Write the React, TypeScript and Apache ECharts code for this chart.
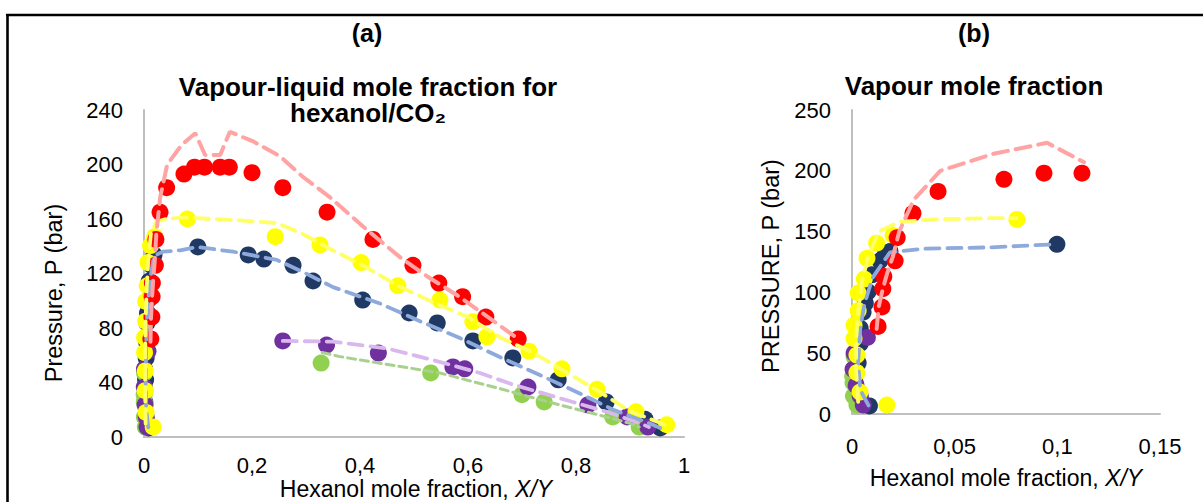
import { useEffect, useRef } from "react";
import * as echarts from "echarts";

// ---------- measured points (X = hexanol mole fraction, P = pressure in bar) ----------
// Vapour branch (shown in both panels)
const redVapX = [0.0127, 0.0146, 0.015, 0.0155, 0.021, 0.022, 0.0297, 0.0419, 0.074, 0.0935, 0.112];
const redVapP = [72, 88, 103, 113, 126, 145, 165, 183, 193, 198, 198];
const yelVapX = [0.017, 0.0039, 0.0024, 0.0024, 0.001, 0.001, 0.003, 0.003, 0.006, 0.0073, 0.012, 0.02, 0.0803];
const yelVapP = [7.4, 18, 34, 48.5, 62, 73, 85, 99.5, 111, 128, 140.5, 147, 160];
const navVapX = [0.0085, 0.004, 0.0015, 0.003, 0.004, 0.004, 0.0054, 0.0065, 0.0078, 0.0097, 0.0136, 0.016, 0.0185, 0.0998];
const navVapP = [6.6, 13, 25.7, 42, 58, 70.5, 83.7, 91, 100.5, 114.5, 126, 130.6, 133.6, 139.5];
const purVapX = [0.0055, 0.004, 0.002, 0.0005, 0.001, 0.0075];
const purVapP = [7.3, 14.7, 23.5, 36.7, 50, 63];
const grnVapX = [0.0024, 0.0007, 0.0005, 0.0003, 0.001];
const grnVapP = [7.3, 14.7, 25.7, 31, 47];

// Liquid branch (left panel only)
const redLiqX = [0.141, 0.158, 0.2, 0.257, 0.339, 0.424, 0.498, 0.546, 0.59, 0.633, 0.693];
const redLiqP = [198, 198, 194, 183, 165, 145, 126, 113, 103, 88, 72];
const yelLiqX = [0.243, 0.326, 0.402, 0.47, 0.548, 0.609, 0.635, 0.713, 0.774, 0.839, 0.911, 0.968];
const yelLiqP = [147, 141, 128, 111, 100.5, 84.5, 73.5, 63, 50, 35, 18.5, 9];
const navLiqX = [0.193, 0.222, 0.276, 0.313, 0.405, 0.491, 0.543, 0.609, 0.683, 0.767, 0.856, 0.928, 0.956];
const navLiqP = [133.6, 130.6, 126, 114.5, 100.5, 91, 83.7, 70.5, 58, 42, 25.7, 13, 6.6];
const purLiqX = [0.257, 0.338, 0.434, 0.572, 0.594, 0.711, 0.822, 0.895, 0.933];
const purLiqP = [70.5, 67.5, 61.6, 51.4, 50, 36.7, 23.5, 14.7, 7.3];
const grnLiqX = [0.328, 0.531, 0.7, 0.741, 0.868, 0.917];
const grnLiqP = [54.3, 47, 31, 25.7, 14.7, 7.3];

// Model (dashed) curves
const redVapLineX = [0.012, 0.013, 0.015, 0.017, 0.02, 0.023, 0.03, 0.043, 0.069, 0.095, 0.113];
const redVapLineP = [70, 88, 103, 115, 130, 150, 176, 200, 214, 223, 207];
const redLiqLineX = [0.141, 0.159, 0.202, 0.252, 0.294, 0.344, 0.413, 0.474, 0.524, 0.58, 0.63, 0.693];
const redLiqLineP = [207, 224, 217, 206, 191, 176, 152, 132, 118, 104, 90, 72];
const yelVapLineX = [0.003, 0.002, 0.002, 0.003, 0.005, 0.008, 0.013, 0.023, 0.04, 0.067, 0.08];
const yelVapLineP = [10, 35, 60, 85, 110, 130, 150, 158, 160, 161, 161];
const yelLiqLineX = [0.178, 0.246, 0.289, 0.35, 0.41, 0.47, 0.54, 0.6, 0.66, 0.72, 0.78, 0.84, 0.9, 0.965];
const yelLiqLineP = [159, 157, 150, 137, 125, 111, 98, 88, 73, 62, 48, 34, 19, 9];
const navVapLineX = [0.008, 0.004, 0.003, 0.004, 0.006, 0.01, 0.0185, 0.035, 0.067, 0.098];
const navVapLineP = [7, 20, 42, 70, 90, 112, 133, 136, 137, 139.5];
const navLiqLineX = [0.165, 0.246, 0.3, 0.35, 0.437, 0.505, 0.585, 0.659, 0.733, 0.807, 0.869, 0.93, 0.956];
const navLiqLineP = [136, 130, 120, 110, 98, 86, 72.6, 58.7, 45.5, 32, 20, 11, 6.6];
const purLiqLineX = [0.257, 0.35, 0.45, 0.535, 0.622, 0.683, 0.783, 0.857, 0.919, 0.935];
const purLiqLineP = [70.5, 70, 65, 56.5, 47, 38.5, 27, 18.5, 10, 7.3];
const grnLiqLineX = [0.33, 0.363, 0.424, 0.548, 0.654, 0.77, 0.844, 0.9, 0.917];
const grnLiqLineP = [62, 59, 55, 47, 36, 23.5, 16, 10, 7.3];

// Axis ticks
const leftXTicks = { min: 0, max: 1, interval: 0.2 };
const leftYTicks = { min: 0, max: 240, interval: 40 };
const rightXTicks = { min: 0, max: 0.15, interval: 0.05 };
const rightYTicks = { min: 0, max: 250, interval: 50 };

const zip = (xs: number[], ps: number[]) => xs.map((x, i) => [x, ps[i]]);

const FONT = "'Liberation Sans', Arial, sans-serif";
const C = {
  red: "#FF0000",
  yel: "#FFFF00",
  nav: "#1F3864",
  pur: "#7030A0",
  grn: "#92D050",
  redL: "#FFA3A3",
  yelL: "#FFFF66",
  navL: "#8EA9DB",
  purL: "#D9B8EE",
  grnL: "#A9D18E",
};

const commaFmt = (v: number) => String(parseFloat(v.toFixed(4))).replace(".", ",");

export default function App() {
  const ref = useRef<HTMLDivElement>(null);
  useEffect(() => {
    if (!ref.current) return;
    const chart = echarts.init(ref.current, undefined, { renderer: "svg" });

    const axisCommon = {
      axisLine: { show: true, lineStyle: { color: "#BFBFBF", width: 2 } },
      axisTick: { show: false },
      splitLine: { show: false },
    };
    const lbl = { color: "#000", fontSize: 22, fontFamily: FONT };

    const line = (data: number[][], color: string, g: number, width = 3.8, dash = [14, 8]) => ({
      type: "line",
      xAxisIndex: g,
      yAxisIndex: g,
      data,
      symbol: "none",
      showSymbol: false,
      smooth: false,
      silent: true,
      lineStyle: { color, width, type: dash, cap: "round" },
    });
    const dots = (data: number[][], color: string, g: number) => ({
      type: "scatter",
      xAxisIndex: g,
      yAxisIndex: g,
      data,
      symbol: "circle",
      symbolSize: 17,
      silent: true,
      itemStyle: { color, opacity: 1 },
    });

    const text = (t: string, x: number, y: number, size: number, bold: boolean, extra: any = {}) => ({
      type: "text",
      x,
      y,
      ...extra,
      style: {
        text: t,
        x: 0,
        y: 0,
        fill: "#000",
        fontSize: size,
        fontWeight: bold ? "bold" : "normal",
        fontFamily: FONT,
        align: "center",
        verticalAlign: "middle",
        textAlign: "center",
        textVerticalAlign: "middle",
        ...(extra.style || {}),
      },
    });

    const xTitleStyle = {
      style: {
        rich: {
          i: { fontStyle: "italic", fontSize: 23, fontFamily: FONT, fill: "#000" },
        },
      },
    };

    chart.setOption({
      animation: false,
      backgroundColor: "#fff",
      grid: [
        { left: 144, top: 110, width: 540, height: 327 },
        { left: 852, top: 110, width: 308, height: 304 },
      ],
      xAxis: [
        {
          type: "value", gridIndex: 0, ...leftXTicks, ...axisCommon,
          axisLabel: { ...lbl, margin: 17, formatter: commaFmt },
        },
        {
          type: "value", gridIndex: 1, ...rightXTicks, ...axisCommon,
          axisLabel: { ...lbl, margin: 21, formatter: commaFmt },
        },
      ],
      yAxis: [
        {
          type: "value", gridIndex: 0, ...leftYTicks, ...axisCommon,
          axisLabel: { ...lbl, margin: 21 },
        },
        {
          type: "value", gridIndex: 1, ...rightYTicks, ...axisCommon,
          axisLabel: { ...lbl, margin: 21 },
        },
      ],
      series: [
        // left panel dashed curves
        line(zip(grnLiqLineX, grnLiqLineP), C.grnL, 0, 3, [8, 5]),
        line(zip(purLiqLineX, purLiqLineP), C.purL, 0),
        line(zip(navVapLineX.concat(navLiqLineX), navVapLineP.concat(navLiqLineP)), C.navL, 0),
        line(zip(yelVapLineX.concat(yelLiqLineX), yelVapLineP.concat(yelLiqLineP)), C.yelL, 0),
        line(zip(redVapLineX.concat(redLiqLineX), redVapLineP.concat(redLiqLineP)), C.redL, 0, 4, [15, 8]),
        // right panel dashed curves
        line(zip(navVapLineX, navVapLineP), C.navL, 1),
        line(zip(yelVapLineX, yelVapLineP), C.yelL, 1),
        line(zip(redVapLineX, redVapLineP), C.redL, 1, 4, [15, 8]),
        // left panel points
        dots(zip(navVapX.concat(navLiqX), navVapP.concat(navLiqP)), C.nav, 0),
        dots(zip(grnVapX.concat(grnLiqX), grnVapP.concat(grnLiqP)), C.grn, 0),
        dots(zip(purVapX.concat(purLiqX), purVapP.concat(purLiqP)), C.pur, 0),
        dots(zip(yelVapX.concat(yelLiqX), yelVapP.concat(yelLiqP)), C.yel, 0),
        dots(zip(redVapX.concat(redLiqX), redVapP.concat(redLiqP)), C.red, 0),
        // right panel points
        dots(zip(navVapX, navVapP), C.nav, 1),
        dots(zip(grnVapX, grnVapP), C.grn, 1),
        dots(zip(purVapX, purVapP), C.pur, 1),
        dots(zip(yelVapX, yelVapP), C.yel, 1),
        dots(zip(redVapX, redVapP), C.red, 1),
      ],
      graphic: [
        { type: "line", shape: { x1: 6, y1: 15, x2: 1203, y2: 15 }, style: { stroke: "#000", lineWidth: 2.6 } },
        { type: "line", shape: { x1: 7.5, y1: 14, x2: 7.5, y2: 502 }, style: { stroke: "#000", lineWidth: 2.6 } },
        text("(a)", 367, 33, 25, true),
        text("(b)", 974, 33, 25, true),
        text("Vapour-liquid mole fraction for", 368, 87, 25, true, { scaleX: 1.04 }),
        text("hexanol/CO₂", 368, 113, 25, true, { scaleX: 1.04 }),
        text("Vapour mole fraction", 974, 86, 25, true, { scaleX: 1.04 }),
        text("Pressure, P (bar)", 54, 293, 23.5, false, { rotation: Math.PI / 2 }),
        text("PRESSURE, P (bar)", 771, 266, 23.5, false, { rotation: Math.PI / 2 }),
        text("Hexanol mole fraction, {i|X/Y}", 416, 489, 23, false, xTitleStyle),
        text("Hexanol mole fraction, {i|X/Y}", 1006, 478, 23, false, xTitleStyle),
      ],
    });
    return () => chart.dispose();
  }, []);

  return (
    <div
      ref={ref}
      style={{ position: "fixed", left: 0, top: 0, width: 1203, height: 502, background: "#fff" }}
    />
  );
}
